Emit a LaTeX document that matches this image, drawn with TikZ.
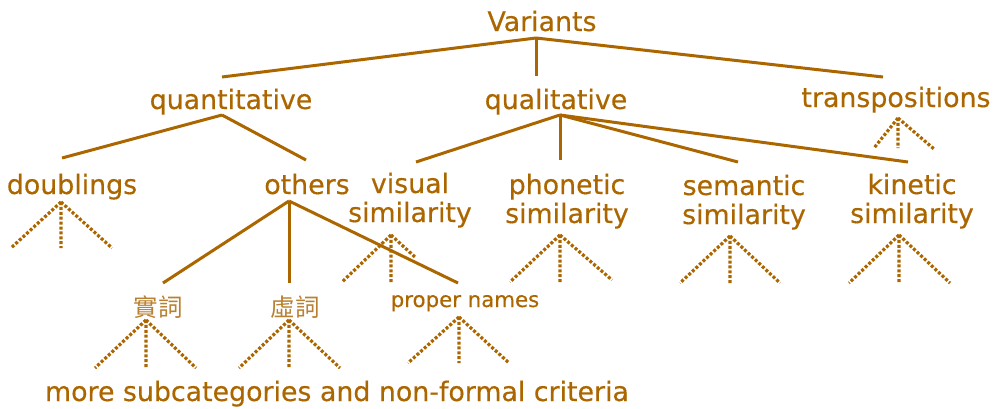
\documentclass[tikz,border=0pt]{standalone}
\usepackage{fontspec}
\setmainfont{DejaVu Sans}[FakeBold=0.4]
\newfontfamily\cjkfont{Noto Sans CJK TC}
\definecolor{umber}{RGB}{172,102,0}
\definecolor{umberlight}{RGB}{184,128,48}
\begin{document}
\begin{tikzpicture}[x=1pt,y=-1pt,
  every node/.style={text=umber, inner sep=0pt},
  lbl/.style={anchor=base, font=\fontsize{26.8}{29}\selectfont, align=center},
  small/.style={anchor=base, font=\fontsize{21.3}{25}\selectfont},
  han/.style={anchor=center, text=umberlight, font=\cjkfont\fontsize{24.5}{28}\selectfont},
  branch/.style={draw=umber, line width=3pt},
  fanline/.style={draw=umber, line width=3.2pt, dash pattern=on 3pt off 1.9pt},
]
\useasboundingbox (0,0) rectangle (995,408);

% labels (two-line labels are placed by the baseline of their last line)
\node[lbl] (variants) at (542,31) {Variants};
\node[lbl] (quant) at (231,109) {quantitative};
\node[lbl] (qual) at (556,109) {qualitative};
\node[lbl] (transp) at (896,107) {transpositions};
\node[lbl] (doubl) at (72,194) {doublings};
\node[lbl] (others) at (307,194) {others};
\node[lbl] (visual) at (410,222) {visual\\similarity};
\node[lbl] (phonetic) at (567,223) {phonetic\\similarity};
\node[lbl] (semantic) at (744,224) {semantic\\similarity};
\node[lbl] (kinetic) at (912,223) {kinetic\\similarity};
\node[han] (shici) at (158,307) {實詞};
\node[han] (xuci) at (295,307) {虛詞};
\node[small] (proper) at (465,307) {proper names};
\node[lbl] (more) at (337,401) {more subcategories and non-formal criteria};

% attachment points of the branches
\coordinate (variants-b) at (536,38);
\coordinate (quant-t) at (222,77);
\coordinate (qual-t) at (536,76);
\coordinate (transp-t) at (883,77);
\coordinate (quant-b) at (222,115);
\coordinate (doubl-t) at (62,158);
\coordinate (others-t) at (306,160);
\coordinate (qual-b) at (560,115);
\coordinate (visual-t) at (416,162);
\coordinate (phonetic-t) at (560,160);
\coordinate (semantic-t) at (738,162);
\coordinate (kinetic-t) at (908,162);
\coordinate (others-b) at (289,201);
\coordinate (shici-t) at (163,283);
\coordinate (xuci-t) at (289,283);
\coordinate (proper-t) at (458,283);

% solid branches
\draw[branch] (variants-b) -- (quant-t);
\draw[branch] (variants-b) -- (qual-t);
\draw[branch] (variants-b) -- (transp-t);
\draw[branch] (quant-b) -- (doubl-t);
\draw[branch] (quant-b) -- (others-t);
\draw[branch] (qual-b) -- (visual-t);
\draw[branch] (qual-b) -- (phonetic-t);
\draw[branch] (qual-b) -- (semantic-t);
\draw[branch] (qual-b) -- (kinetic-t);
\draw[branch] (others-b) -- (shici-t);
\draw[branch] (others-b) -- (xuci-t);
\draw[branch] (others-b) -- (proper-t);

% dotted fans for the unexpanded subtrees
\draw[fanline] (61,202) -- ++(-50,46) (61,202) -- ++(0,46) (61,202) -- ++(51,46);
\draw[fanline] (898,118) -- ++(-24,30) (898,118) -- ++(0,30) (898,118) -- ++(36,31);
\draw[fanline] (391,235) -- ++(-49,47) (391,235) -- ++(0,47) (391,235) -- ++(25,23);
\draw[fanline] (560,235) -- ++(-50,47) (560,235) -- ++(0,47) (560,235) -- ++(52,45);
\draw[fanline] (730,236) -- ++(-50,47) (730,236) -- ++(0,47) (730,236) -- ++(50,47);
\draw[fanline] (899,235) -- ++(-50,48) (899,235) -- ++(0,48) (899,235) -- ++(51,48);
\draw[fanline] (146,320) -- ++(-51,48) (146,320) -- ++(0,48) (146,320) -- ++(50,48);
\draw[fanline] (289,320) -- ++(-50,48) (289,320) -- ++(0,48) (289,320) -- ++(51,48);
\draw[fanline] (459,317) -- ++(-51,46) (459,317) -- ++(0,46) (459,317) -- ++(50,46);
\end{tikzpicture}
\end{document}
